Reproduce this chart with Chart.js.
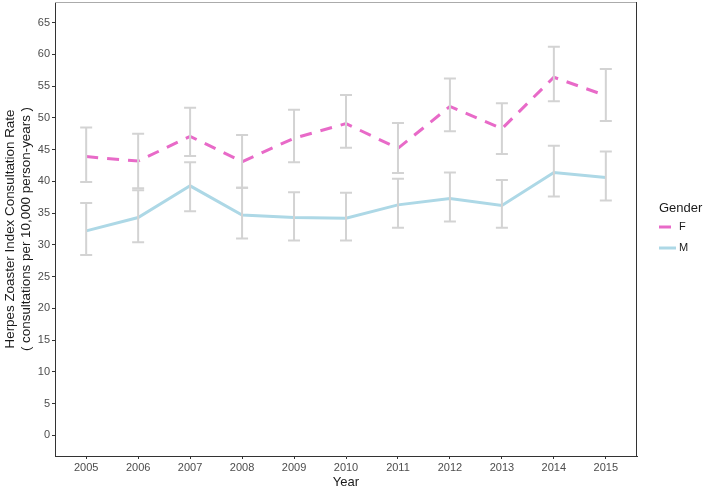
<!DOCTYPE html>
<html>
<head>
<meta charset="utf-8">
<script src="https://cdn.jsdelivr.net/npm/chart.js@4/dist/chart.umd.min.js"></script>
<style>
  body { margin: 0; background: #fff; }
  canvas { display: block; }
</style>
</head>
<body>
<canvas id="myChart" width="707" height="489"></canvas>
<script>
// values
const years = [2005, 2006, 2007, 2008, 2009, 2010, 2011, 2012, 2013, 2014, 2015];

const femaleRate = [43.9, 43.2, 47.1, 43.1, 46.8, 49.1, 45.2, 51.8, 48.3, 56.4, 53.5];
const femaleLow  = [39.9, 38.9, 44.0, 39.0, 43.0, 45.3, 41.3, 47.9, 44.3, 52.6, 49.5];
const femaleHigh = [48.5, 47.5, 51.6, 47.3, 51.3, 53.6, 49.2, 56.2, 52.3, 61.2, 57.7];

const maleRate = [32.2, 34.3, 39.3, 34.7, 34.3, 34.2, 36.3, 37.3, 36.2, 41.4, 40.6];
const maleLow  = [28.4, 30.4, 35.3, 31.0, 30.7, 30.7, 32.7, 33.7, 32.7, 37.6, 37.0];
const maleHigh = [36.6, 38.6, 43.0, 39.0, 38.3, 38.2, 40.4, 41.4, 40.2, 45.6, 44.7];

const yTicks = [0, 5, 10, 15, 20, 25, 30, 35, 40, 45, 50, 55, 60, 65];

const FONT = "'Liberation Sans', Arial, sans-serif";

function points(vals) {
  return years.map((y, i) => ({ x: y, y: vals[i] }));
}

// grey error bars, drawn on top of the lines
const errorBars = {
  id: 'errorBars',
  afterDatasetsDraw(chart) {
    const ctx = chart.ctx;
    const xs = chart.scales.x, ys = chart.scales.y;
    ctx.save();
    ctx.strokeStyle = '#D3D3D3';
    ctx.lineWidth = 2;
    chart.data.datasets.forEach(ds => {
      ds.low.forEach((lo, i) => {
        const px = xs.getPixelForValue(years[i]);
        const top = ys.getPixelForValue(ds.high[i]);
        const bot = ys.getPixelForValue(lo);
        ctx.beginPath();
        ctx.moveTo(px, top); ctx.lineTo(px, bot);
        ctx.moveTo(px - 6, top); ctx.lineTo(px + 6, top);
        ctx.moveTo(px - 6, bot); ctx.lineTo(px + 6, bot);
        ctx.stroke();
      });
    });
    ctx.restore();
  }
};

// panel border + ggplot style legend at the right
const panelAndLegend = {
  id: 'panelAndLegend',
  afterDraw(chart) {
    const ctx = chart.ctx;
    const a = chart.chartArea;
    ctx.save();
    ctx.lineWidth = 1;
    ctx.strokeStyle = '#ABABAB';
    ctx.beginPath();
    ctx.moveTo(a.left, a.top + 0.5); ctx.lineTo(a.right, a.top + 0.5);
    ctx.stroke();
    ctx.strokeStyle = '#333333';
    ctx.beginPath();
    ctx.moveTo(a.right - 0.5, a.top); ctx.lineTo(a.right - 0.5, a.bottom);
    ctx.stroke();

    ctx.fillStyle = '#1a1a1a';
    ctx.textBaseline = 'middle';
    ctx.textAlign = 'left';
    ctx.font = '13px ' + FONT;
    ctx.fillText('Gender', 659, 208);
    ctx.font = '11px ' + FONT;
    chart.data.datasets.forEach((ds, i) => {
      const y = 227 + i * 21;
      ctx.strokeStyle = ds.borderColor;
      ctx.lineWidth = 3;
      ctx.setLineDash([]);
      ctx.beginPath();
      if (ds.borderDash && ds.borderDash.length) {
        ctx.moveTo(659, y); ctx.lineTo(671, y);
      } else {
        ctx.moveTo(659, y); ctx.lineTo(676, y);
      }
      ctx.stroke();
      ctx.fillStyle = '#1a1a1a';
      ctx.fillText(ds.label, 679, y);
    });
    ctx.restore();
  }
};

const ctx = document.getElementById('myChart');
const myChart = new Chart(ctx, {
  type: 'line',
  data: {
    datasets: [
      {
        label: 'F',
        data: points(femaleRate),
        low: femaleLow,
        high: femaleHigh,
        borderColor: '#E86AC8',
        borderWidth: 3,
        borderDash: [12, 9],
        pointRadius: 0,
        tension: 0,
        fill: false
      },
      {
        label: 'M',
        data: points(maleRate),
        low: maleLow,
        high: maleHigh,
        borderColor: '#ADD8E6',
        borderWidth: 3,
        pointRadius: 0,
        tension: 0,
        fill: false
      }
    ]
  },
  options: {
    responsive: false,
    animation: false,
    layout: { padding: { left: 0, right: 70, top: 2, bottom: 0 } },
    plugins: {
      legend: { display: false },
      tooltip: { enabled: false }
    },
    scales: {
      x: {
        type: 'linear',
        min: 2004.4,
        max: 2015.6,
        afterBuildTicks: s => { s.ticks = years.map(v => ({ value: v })); },
        afterFit: s => { s.height = 33; s.paddingLeft = 0; s.paddingRight = 0; },
        grid: { drawOnChartArea: false, drawTicks: true, tickLength: 3, color: '#333333' },
        border: { display: true, color: '#333333', width: 1 },
        ticks: {
          padding: 2,
          color: '#4D4D4D',
          font: { family: FONT, size: 11 },
          callback: v => String(v)
        },
        title: {
          display: true,
          text: 'Year',
          color: '#1a1a1a',
          padding: { top: 0, bottom: 0 },
          font: { family: FONT, size: 13, lineHeight: 1 }
        }
      },
      y: {
        min: -3.25,
        max: 68.25,
        afterBuildTicks: s => { s.ticks = yTicks.map(v => ({ value: v })); },
        afterFit: s => { s.width = 55; s.paddingTop = 0; s.paddingBottom = 0; },
        grid: { drawOnChartArea: false, drawTicks: true, tickLength: 3, color: '#333333' },
        border: { display: true, color: '#333333', width: 1 },
        ticks: {
          padding: 2,
          color: '#4D4D4D',
          font: { family: FONT, size: 11 }
        },
        title: {
          display: true,
          text: ['Herpes Zoaster Index Consultation Rate', '( consultations per 10,000 person-years )'],
          color: '#1a1a1a',
          padding: { top: 2, bottom: 0 },
          font: { family: FONT, size: 13.4, lineHeight: 1.2 }
        }
      }
    }
  },
  plugins: [errorBars, panelAndLegend]
});
</script>
</body>
</html>
